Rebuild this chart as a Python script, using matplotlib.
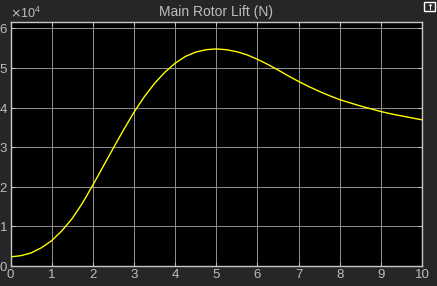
import matplotlib
matplotlib.use("Agg")
import matplotlib.pyplot as plt
from matplotlib.patches import Rectangle
from matplotlib.ticker import ScalarFormatter

plt.rcParams['font.family'] = ['Liberation Sans', 'DejaVu Sans']

# time (s) and lift (N)
t = [0, 0.25, 0.5, 0.75, 1, 1.25, 1.5, 1.75, 2, 2.25, 2.5, 2.75, 3, 3.25, 3.5, 3.75,
     4, 4.25, 4.5, 4.75, 5, 5.25, 5.5, 5.75, 6, 6.25, 6.5, 6.75, 7, 7.25, 7.5, 7.75,
     8, 8.25, 8.5, 8.75, 9, 9.25, 9.5, 9.75, 10]
lift = [0.23, 0.26, 0.33, 0.46, 0.64, 0.89, 1.20, 1.59, 2.04, 2.51, 2.98, 3.44, 3.88,
        4.27, 4.61, 4.89, 5.12, 5.29, 5.40, 5.46, 5.48, 5.46, 5.41, 5.33, 5.22, 5.09,
        4.95, 4.80, 4.66, 4.53, 4.41, 4.30, 4.20, 4.12, 4.04, 3.97, 3.90, 3.84, 3.79,
        3.74, 3.69]
lift = [v * 1e4 for v in lift]

xticks = list(range(0, 11))
yticks = [i * 1e4 for i in range(0, 7)]
title = "Main Rotor Lift (N)"

bg = "#262626"
txt = "#bdbdbd"

fig = plt.figure(figsize=(4.37, 2.86), dpi=100, facecolor=bg)
ax = fig.add_axes([10.5 / 437, 20 / 286, 411.5 / 437, 244 / 286])
ax.set_facecolor("black")

ax.plot(t, lift, color="#ffff00", linewidth=1.0, solid_joinstyle="round")

ax.set_xlim(0, 10)
ax.set_ylim(0, 6.16e4)
ax.set_xticks(xticks)
ax.set_yticks(yticks)
ax.grid(True, color="#909090", linewidth=0.7)

fmt = ScalarFormatter(useMathText=True)
fmt.set_powerlimits((0, 0))
ax.yaxis.set_major_formatter(fmt)
ax.yaxis.get_offset_text().set_color(txt)
ax.yaxis.get_offset_text().set_fontsize(9)

ax.tick_params(colors=txt, labelsize=9.5, direction="in", length=3,
               pad=2, top=True, right=True)
for s in ax.spines.values():
    s.set_color("#c8c8c8")
    s.set_linewidth(1)

ax.set_title(title, color=txt, fontsize=10, pad=4)

# little undock icon at the top right corner
fig.patches.append(Rectangle((424 / 437, 275 / 286), 11 / 437, 9 / 286,
                             transform=fig.transFigure, fill=False,
                             edgecolor="white", linewidth=1))
fig.text(429.5 / 437, 279 / 286, "\u2191", color="white", fontsize=6,
         ha="center", va="center", family="DejaVu Sans", fontweight="bold")

fig.savefig("out.png", dpi=100, facecolor=bg)
